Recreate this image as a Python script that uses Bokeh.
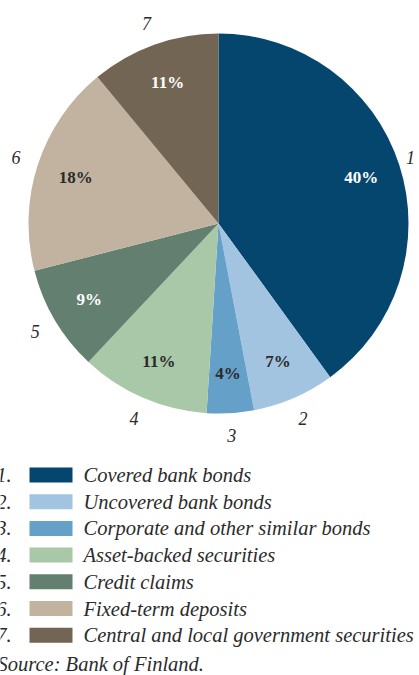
import math
from bokeh.plotting import figure
from bokeh.models import Range1d, ColumnDataSource
from bokeh.core.properties import value
from bokeh.embed import file_html
from bokeh.resources import INLINE

# ---- data ----
numbers = ["1", "2", "3", "4", "5", "6", "7"]
categories = [
    "Covered bank bonds",
    "Uncovered bank bonds",
    "Corporate and other similar bonds",
    "Asset-backed securities",
    "Credit claims",
    "Fixed-term deposits",
    "Central and local government securities",
]
shares = [40, 7, 4, 11, 9, 18, 11]
source_note = "Source: Bank of Finland."

# ---- styling ----
colors = ["#05466f", "#a3c4e0", "#65a0c8", "#a9c8a8", "#637f70", "#c1b3a0", "#736553"]
pct_colors = ["white", "#2b2b2b", "#2b2b2b", "#2b2b2b", "white", "#2b2b2b", "white"]
FONT = "Liberation Serif"
TXT = "#2b2b2b"

W, H = 419, 675
cx, cy, R = 218, H - 223, 190

p = figure(width=W, height=H, output_backend="svg", toolbar_location=None,
           x_range=Range1d(0, W), y_range=Range1d(0, H), min_border=0)
p.axis.visible = False
p.grid.visible = False
p.outline_line_color = None
p.background_fill_color = "white"

total = sum(shares)
starts, ends, mids = [], [], []
cum = 0.0
for s in shares:
    a0 = math.pi / 2 - 2 * math.pi * cum / total
    cum += s
    a1 = math.pi / 2 - 2 * math.pi * cum / total
    starts.append(a1)
    ends.append(a0)
    mids.append((a0 + a1) / 2)

src = ColumnDataSource(dict(start=starts, end=ends, color=colors))
p.wedge(x=cx, y=cy, radius=R, start_angle="start", end_angle="end",
        fill_color="color", line_color=None, source=src)

# percent labels
pct_src = ColumnDataSource(dict(
    x=[cx + 0.79 * R * math.cos(m) for m in mids],
    y=[cy + 0.79 * R * math.sin(m) for m in mids],
    t=[f"{s}%" for s in shares],
    c=pct_colors,
))
p.text(x="x", y="y", text="t", text_color="c", source=pct_src,
       text_font=value(FONT), text_font_size="17px", text_font_style="bold",
       text_align="center", text_baseline="middle")

# number labels outside (kept inside the page)
num_src = ColumnDataSource(dict(
    x=[min(cx + 1.12 * R * math.cos(m), W - 9) for m in mids],
    y=[cy + 1.12 * R * math.sin(m) for m in mids],
    t=numbers,
))
p.text(x="x", y="y", text="t", text_color=TXT, source=num_src,
       text_font=value(FONT), text_font_size="18px", text_font_style="italic",
       text_align="center", text_baseline="middle")

# legend
row0, step = 474.5, 26.7
ly = [H - (row0 + i * step) for i in range(len(categories))]
leg_src = ColumnDataSource(dict(
    y=ly, color=colors, cat=categories, num=[n + "." for n in numbers],
))
p.rect(x=50.5, y="y", width=43, height=15, fill_color="color", line_color=None, source=leg_src)
p.text(x=83, y="y", text="cat", text_color=TXT, source=leg_src,
       text_font=value(FONT), text_font_size="20.5px", text_font_style="italic",
       text_align="left", text_baseline="middle")
p.text(x=11, y="y", text="num", text_color=TXT, source=leg_src,
       text_font=value(FONT), text_font_size="20.5px", text_font_style="italic",
       text_align="right", text_baseline="middle")
p.text(x=[-3], y=[H - 663], text=[source_note], text_color=TXT,
       text_font=value(FONT), text_font_size="20.5px", text_font_style="italic",
       text_align="left", text_baseline="middle")

open("out.html", "w").write(file_html(p, INLINE))
